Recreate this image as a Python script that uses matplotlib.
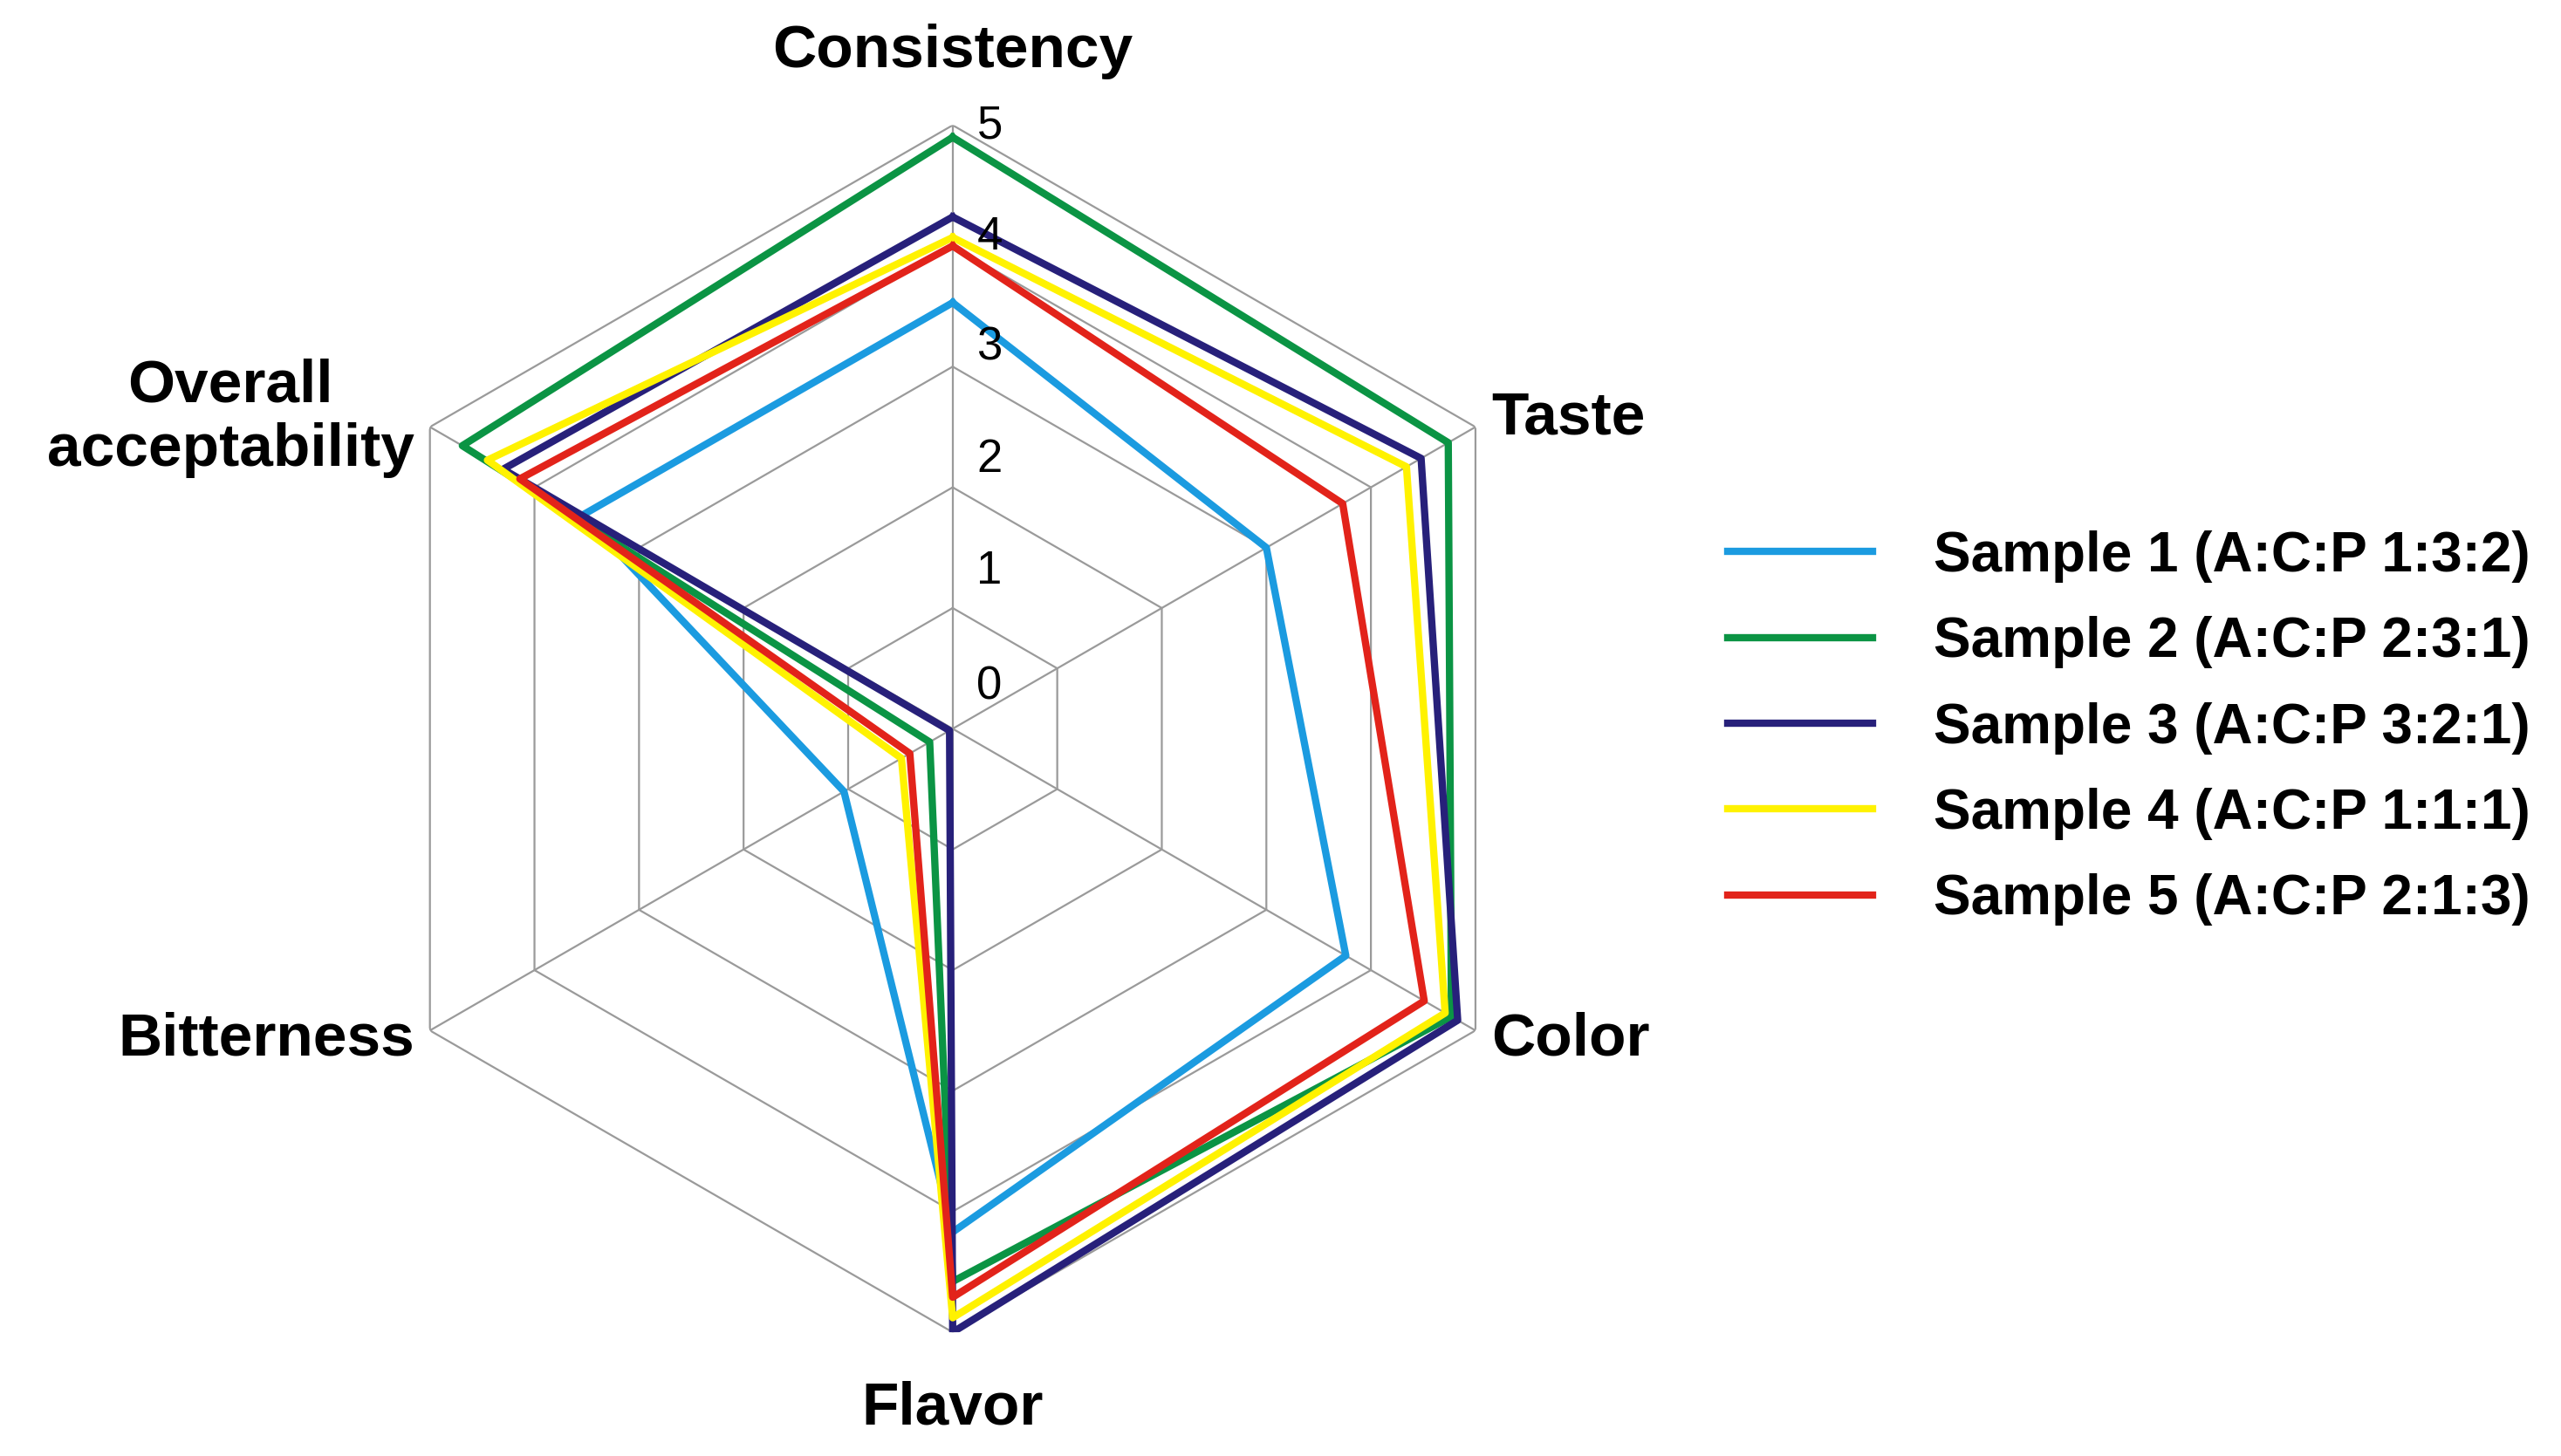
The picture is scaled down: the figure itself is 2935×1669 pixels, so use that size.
import numpy as np
import matplotlib
matplotlib.use("Agg")
import matplotlib.pyplot as plt

plt.rcParams["font.family"] = ["Liberation Sans", "DejaVu Sans"]

categories = ["Consistency", "Taste", "Color", "Flavor", "Bitterness", "Overall\nacceptability"]
series_names = [
    "Sample 1 (A:C:P 1:3:2)",
    "Sample 2 (A:C:P 2:3:1)",
    "Sample 3 (A:C:P 3:2:1)",
    "Sample 4 (A:C:P 1:1:1)",
    "Sample 5 (A:C:P 2:1:3)",
]
sample1 = [3.53, 3.0, 3.76, 4.17, 1.04, 3.54]
sample2 = [4.9, 4.74, 4.77, 4.58, 0.22, 4.69]
sample3 = [4.24, 4.48, 4.83, 5.0, 0.03, 4.3]
sample4 = [4.07, 4.34, 4.71, 4.88, 0.49, 4.45]
sample5 = [4.0, 3.73, 4.51, 4.71, 0.41, 4.14]
colors = ["#1b9be0", "#0b9444", "#27207a", "#fff200", "#e2231a"]
ticks = [0, 1, 2, 3, 4, 5]

fig = plt.figure(figsize=(29.35, 16.69), dpi=100)
ax = fig.add_axes([0.136, 0.085, 0.472, 0.829], projection="polar")
ax.set_theta_offset(np.pi / 2)
ax.set_theta_direction(-1)
ax.set_ylim(0, 5)
ax.axis("off")

theta = np.linspace(0, 2 * np.pi, len(categories), endpoint=False)
closed = np.append(theta, theta[0])

# hexagonal grid
for r in ticks[1:]:
    ax.plot(closed, [r] * len(closed), color="#9a9a9a", lw=1.6, zorder=1)
for t in theta:
    ax.plot([t, t], [0, 5], color="#9a9a9a", lw=1.6, zorder=1)
# tick labels sit a little above their ring, just right of the vertical spoke
for r in ticks:
    rr = 0.92 * r + 0.4
    ax.text(np.arcsin(min(0.2 / rr, 1)), rr, str(r), fontsize=38, ha="left", va="center",
            zorder=5)

for vals, c, name in zip([sample1, sample2, sample3, sample4, sample5], colors, series_names):
    ax.plot(closed, vals + vals[:1], color=c, lw=6, label=name, zorder=3)

label_pos = [
    (0, 5.38, "center", "bottom"),
    (theta[1], 5.15, "left", "center"),
    (theta[2], 5.15, "left", "center"),
    (theta[3], 5.4, "center", "top"),
    (theta[4], 5.15, "right", "center"),
    (theta[5], 5.15, "right", "center"),
]
for cat, (t, r, ha, va) in zip(categories, label_pos):
    ax.text(t, r, cat, fontsize=50, fontweight="bold", ha=ha, va=va, ma="center")

handles, labels = ax.get_legend_handles_labels()
fig.legend(handles, labels, loc="center left", bbox_to_anchor=(0.655, 0.5), frameon=False,
           prop={"size": 46, "weight": "bold"}, handlelength=2.6, handletextpad=1.1,
           labelspacing=0.6)

fig.savefig("out.png", dpi=100)
